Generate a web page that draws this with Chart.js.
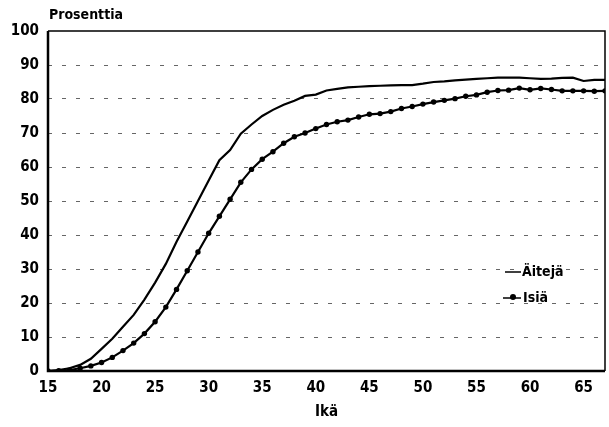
<!DOCTYPE html>
<html>
<head>
<meta charset="utf-8">
<script src="https://cdn.jsdelivr.net/npm/chart.js@4"></script>
<style>
    html, body { margin: 0; padding: 0; background: #fff; }
    #wrap { width: 609px; height: 427px; }
</style>
</head>
<body>
<div id="wrap"><canvas id="chart" width="609" height="427"></canvas></div>
<script>
// Ages 15..67
const ages = [15, 16, 17, 18, 19, 20, 21, 22, 23, 24, 25, 26, 27, 28, 29, 30, 31, 32, 33, 34, 35, 36, 37, 38, 39, 40,
    41, 42, 43, 44, 45, 46, 47, 48, 49, 50, 51, 52, 53, 54, 55, 56, 57, 58, 59, 60, 61, 62, 63, 64, 65, 66, 67];

const aitejaValues = [0, 0.3, 0.8, 1.8, 3.6, 6.5, 9.5, 13, 16.5, 21, 26, 31.5, 38, 44, 50, 56, 62, 65, 69.8, 72.5,
    75, 76.8, 78.3, 79.5, 80.9, 81.3, 82.5, 83, 83.4, 83.6, 83.8, 83.9, 84, 84.1, 84.1, 84.5, 85, 85.2, 85.5, 85.7,
    85.9, 86.1, 86.3, 86.3, 86.3, 86.1, 85.9, 86, 86.2, 86.3, 85.3, 85.6, 85.6];

const isiaValues = [0, 0.1, 0.3, 0.8, 1.5, 2.5, 4, 6, 8.2, 11, 14.5, 18.8, 24, 29.5, 35, 40.5, 45.5, 50.5, 55.5, 59.3,
    62.3, 64.5, 67, 68.9, 70, 71.3, 72.5, 73.3, 73.8, 74.7, 75.5, 75.7, 76.3, 77.2, 77.8, 78.5, 79.1, 79.6, 80.1, 80.8,
    81.2, 82, 82.5, 82.6, 83.2, 82.7, 83.1, 82.8, 82.4, 82.4, 82.4, 82.3, 82.4];

const yTicks = [0, 10, 20, 30, 40, 50, 60, 70, 80, 90, 100];
const xTicks = [15, 20, 25, 30, 35, 40, 45, 50, 55, 60, 65];

const FONT = '"DejaVu Sans Condensed", "Liberation Sans", Arial, sans-serif';

// frame, title and legend drawn by hand
const decorations = {
    id: 'decorations',
    afterDraw(chart) {
        const ctx = chart.ctx;
        const a = chart.chartArea;
        ctx.save();
        ctx.strokeStyle = '#000';
        ctx.lineWidth = 1.5;
        ctx.beginPath();
        ctx.moveTo(a.left, a.top);
        ctx.lineTo(a.right, a.top);
        ctx.lineTo(a.right, a.bottom);
        ctx.stroke();
        ctx.lineWidth = 2.5;
        ctx.beginPath();
        ctx.moveTo(a.left, a.top);
        ctx.lineTo(a.left, a.bottom);
        ctx.lineTo(a.right, a.bottom);
        ctx.stroke();

        ctx.fillStyle = '#000';
        ctx.font = 'bold 14px ' + FONT;
        ctx.textBaseline = 'middle';
        ctx.textAlign = 'left';
        ctx.fillText('Prosenttia', 49, 15);

        // legend
        ctx.lineWidth = 1.5;
        ctx.beginPath();
        ctx.moveTo(505, 272);
        ctx.lineTo(521, 272);
        ctx.stroke();
        ctx.beginPath();
        ctx.moveTo(503, 298);
        ctx.lineTo(521, 298);
        ctx.stroke();
        ctx.beginPath();
        ctx.arc(513, 297, 3, 0, Math.PI * 2);
        ctx.fill();
        ctx.font = 'bold 14px ' + FONT;
        ctx.fillText('Äitejä', 522, 272);
        ctx.fillText('Isiä', 523, 298);
        ctx.restore();
    }
};

new Chart(document.getElementById('chart'), {
    type: 'line',
    data: {
        labels: ages,
        datasets: [{
            label: 'Äitejä',
            data: ages.map((a, i) => ({ x: a, y: aitejaValues[i] })),
            borderColor: '#000',
            borderWidth: 2.2,
            pointRadius: 0,
            tension: 0
        }, {
            label: 'Isiä',
            data: ages.map((a, i) => ({ x: a, y: isiaValues[i] })),
            borderColor: '#000',
            backgroundColor: '#000',
            borderWidth: 2.2,
            pointRadius: 2.7,
            pointBorderWidth: 0,
            tension: 0
        }]
    },
    options: {
        responsive: false,
        animation: false,
        layout: { padding: { top: 31, right: 4, left: 0, bottom: 0 } },
        plugins: {
            legend: { display: false },
            tooltip: { enabled: false }
        },
        scales: {
            x: {
                type: 'linear',
                min: 15,
                max: 67,
                afterBuildTicks: function (scale) {
                    scale.ticks = xTicks.map(v => ({ value: v }));
                },
                afterFit: function (scale) { scale.height = 56; },
                grid: { display: false, drawTicks: false },
                border: { display: false },
                ticks: {
                    color: '#000',
                    padding: 8,
                    maxRotation: 0,
                    font: { family: FONT, size: 15, weight: 'bold' }
                },
                title: {
                    display: true,
                    text: 'Ikä',
                    color: '#000',
                    padding: { top: 2, bottom: 6 },
                    font: { family: FONT, size: 15, weight: 'bold' }
                }
            },
            y: {
                min: 0,
                max: 100,
                afterBuildTicks: function (scale) {
                    scale.ticks = yTicks.map(v => ({ value: v }));
                },
                afterFit: function (scale) { scale.width = 48; },
                grid: {
                    color: function (c) {
                        return (c.tick && (c.tick.value === 0 || c.tick.value === 100)) ? 'rgba(0,0,0,0)' : '#666';
                    },
                    drawTicks: false,
                    lineWidth: 1
                },
                border: { display: false, dash: [4, 10] },
                ticks: {
                    color: '#000',
                    padding: 9,
                    font: { family: FONT, size: 15, weight: 'bold' }
                }
            }
        }
    },
    plugins: [decorations]
});
</script>
</body>
</html>
